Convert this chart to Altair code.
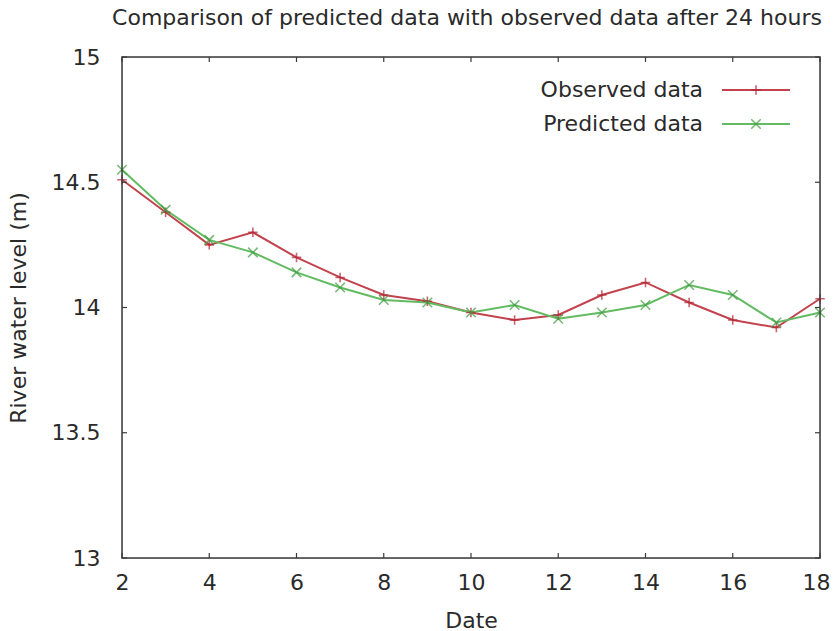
import altair as alt
import pandas as pd

dates = list(range(2, 19))
observed = [14.51, 14.38, 14.25, 14.30, 14.20, 14.12, 14.05, 14.025, 13.98,
            13.95, 13.97, 14.05, 14.10, 14.02, 13.95, 13.92, 14.035]
predicted = [14.55, 14.39, 14.27, 14.22, 14.14, 14.08, 14.03, 14.02, 13.98,
             14.01, 13.955, 13.98, 14.01, 14.09, 14.05, 13.94, 13.98]
series_names = ["Observed data", "Predicted data"]
x_ticks = [2, 4, 6, 8, 10, 12, 14, 16, 18]
y_ticks = [13, 13.5, 14, 14.5, 15]
title_text = "Comparison of predicted data with observed data after 24 hours"

line_colors = ["#c2434d", "#62bb62"]
marker_colors = ["#b32332", "#3f9c3f"]
PLUS = "M-1,0L1,0M0,-1L0,1"
CROSS = "M-1,-1L1,1M-1,1L1,-1"
FONT = "DejaVu Sans"
TXT = "#2a2a2a"
FRAME = "#3a3a3a"
W, H = 698, 501
TICK = 5

df = pd.DataFrame({
    "date": dates * 2,
    "level": observed + predicted,
    "series": [series_names[0]] * len(dates) + [series_names[1]] * len(dates),
})
xt_df = pd.DataFrame({"date": x_ticks})
yt_df = pd.DataFrame({"level": y_ticks})

xscale = alt.Scale(domain=[2, 18], nice=False, zero=False)
yscale = alt.Scale(domain=[13, 15], nice=False, zero=False)
cscale = alt.Scale(domain=series_names, range=line_colors)
mscale = alt.Scale(domain=series_names, range=marker_colors)
sscale = alt.Scale(domain=series_names, range=[PLUS, CROSS])

axis_common = dict(domain=False, grid=False, ticks=False, labelFlush=False,
                   labelFont=FONT, labelFontSize=22, labelColor=TXT,
                   titleFont=FONT, titleFontSize=22, titleColor=TXT,
                   titleFontWeight="normal")
x_axis = alt.Axis(orient="bottom", values=x_ticks, labelPadding=14,
                  titlePadding=17,
                  labelOffset={"condition": {"test": "datum.value == 18", "value": -4},
                               "value": 0},
                  **axis_common)
y_axis = alt.Axis(orient="left", values=y_ticks, labelPadding=22,
                  labelExpr="datum.value", titlePadding=21, **axis_common)

X = alt.X("date:Q", scale=xscale, title="Date", axis=x_axis)
Y = alt.Y("level:Q", scale=yscale, title="River water level (m)", axis=y_axis)

base = alt.Chart(df)

lines = base.mark_line(strokeWidth=2).encode(
    x=X, y=Y,
    color=alt.Color("series:N", scale=cscale, legend=None),
    detail="series:N",
)

points = base.mark_point(filled=False, strokeWidth=1.6, size=90).encode(
    x=X, y=Y,
    stroke=alt.Stroke("series:N", scale=mscale, legend=None),
    shape=alt.Shape("series:N", scale=sscale, legend=None),
)

tick_style = dict(color=FRAME, strokeWidth=1.2)
xb = alt.Chart(xt_df).mark_rule(**tick_style).encode(
    x=X, y=alt.value(H), y2=alt.value(H - TICK))
xtop = alt.Chart(xt_df).mark_rule(**tick_style).encode(
    x=X, y=alt.value(0), y2=alt.value(TICK))
yl = alt.Chart(yt_df).mark_rule(**tick_style).encode(
    y=Y, x=alt.value(0), x2=alt.value(TICK))
yr = alt.Chart(yt_df).mark_rule(**tick_style).encode(
    y=Y, x=alt.value(W), x2=alt.value(W - TICK))

one = pd.DataFrame({"t": [title_text]})
frame = alt.Chart(one).mark_rect(fillOpacity=0, stroke=FRAME, strokeWidth=1.5).encode(
    x=alt.value(0), x2=alt.value(W), y=alt.value(0), y2=alt.value(H))
title = alt.Chart(one).mark_text(align="center", baseline="alphabetic", font=FONT,
                                  fontSize=22, color=TXT).encode(
    x=alt.value(W / 2 - 4), y=alt.value(-32), text="t:N")

legend_layers = []
rows_y = [33, 67]
for i, name in enumerate(series_names):
    ldf = pd.DataFrame({"series": [name]})
    lb = alt.Chart(ldf)
    legend_layers.append(
        lb.mark_text(align="right", baseline="middle", font=FONT, fontSize=22,
                     color=TXT).encode(
            x=alt.value(581), y=alt.value(rows_y[i]), text="series:N")
    )
    legend_layers.append(
        lb.mark_rule(strokeWidth=2, color=line_colors[i]).encode(
            x=alt.value(600), x2=alt.value(668), y=alt.value(rows_y[i]))
    )
    legend_layers.append(
        lb.mark_point(filled=False, strokeWidth=1.6, size=90,
                      color=marker_colors[i],
                      shape=[PLUS, CROSS][i]).encode(
            x=alt.value(634), y=alt.value(rows_y[i]))
    )

chart = alt.layer(lines, points, xb, xtop, yl, yr, frame, title,
                  *legend_layers).properties(
    width=W,
    height=H,
    autosize=alt.AutoSizeParams(type="none"),
    padding={"left": 114, "top": 49, "right": 11, "bottom": 73},
).configure_view(
    stroke=None
).configure(background="white")

chart.save("out.html", embed_options={"renderer": "svg", "actions": False})
